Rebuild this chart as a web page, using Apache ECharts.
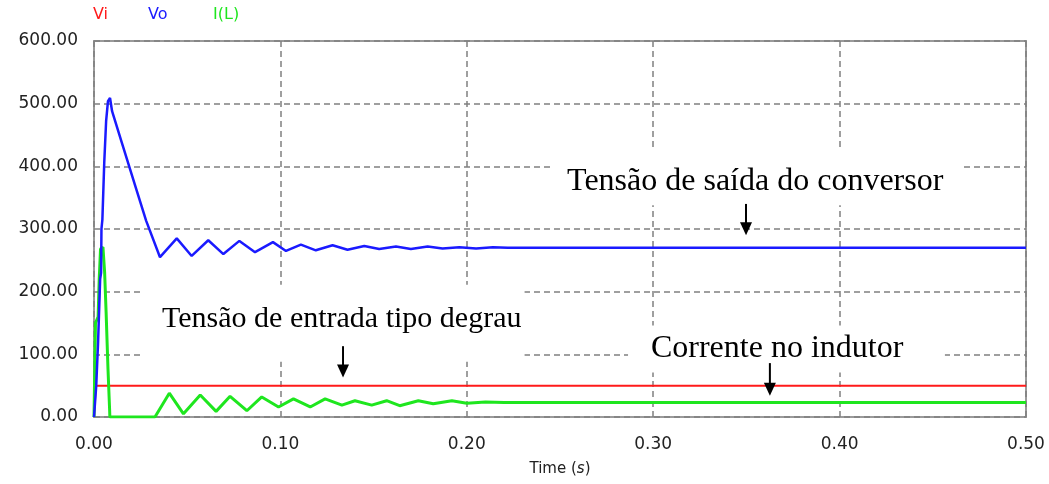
<!DOCTYPE html>
<html>
<head>
<meta charset="utf-8">
<script src="https://cdn.jsdelivr.net/npm/echarts@6/dist/echarts.min.js"></script>
<style>
html,body{margin:0;padding:0;background:#fff;}
#c{width:1049px;height:484px;}
</style>
</head>
<body>
<div id="c"></div>
<script>
// ---- data ----
var xTicks = [0, 0.1, 0.2, 0.3, 0.4, 0.5];
var yTicks = [0, 100, 200, 300, 400, 500, 600];
var seriesNames = ['Vi', 'Vo', 'I(L)'];

var viTime = [0, 0.0010, 0.0010, 0.5];
var viVal  = [0, 0, 50, 50];

var voTime = [0, 0.0006, 0.0012, 0.0020, 0.0022, 0.0030, 0.0033, 0.0038, 0.0040, 0.0045, 0.0055, 0.0065, 0.0075, 0.0086, 0.0097, 0.015, 0.022, 0.028, 0.0354, 0.0444, 0.0524, 0.0613, 0.0694, 0.078, 0.0864, 0.096, 0.103, 0.111, 0.119, 0.128, 0.136, 0.145, 0.153, 0.162, 0.170, 0.179, 0.187, 0.196, 0.205, 0.214, 0.222, 0.5];
var voVal  = [0, 0, 50, 50, 120, 120, 220, 230, 300, 315, 406, 472, 504, 509, 488, 437, 370, 313, 255, 285, 257, 282, 260, 281, 263, 279, 265, 275, 266, 274, 267, 273, 268, 272, 268, 272, 269, 271, 269, 271, 270, 270];

var ilTime = [0, 0.0006, 0.0008, 0.0022, 0.0028, 0.0035, 0.0048, 0.0057, 0.0065, 0.0075, 0.0084, 0.0085, 0.0327, 0.0404, 0.048, 0.057, 0.0655, 0.073, 0.082, 0.090, 0.099, 0.107, 0.116, 0.124, 0.133, 0.140, 0.149, 0.157, 0.164, 0.174, 0.182, 0.192, 0.200, 0.210, 0.220, 0.5];
var ilVal  = [0, 0, 150, 160, 220, 268, 271, 231, 167, 77, 10, 0, 0, 38, 5, 35, 9, 33, 10, 32, 16, 29, 16, 29, 19, 26, 19, 26, 18, 26, 21, 26, 22, 24, 23, 23];

// annotations: text, anchor (time, value) of text left/middle, arrow (time, valueTop, valueTip), box corners
var annoText  = ['Tensão de saída do conversor', 'Tensão de entrada tipo degrau', 'Corrente no indutor'];
var annoSize  = [32, 30, 32];
var annoPos   = [[0.2538, 375], [0.0365, 156], [0.2988, 109]];
var arrowPos  = [[0.3498, 340, 290], [0.1336, 113, 63], [0.3626, 86, 34]];
var boxPos    = [[0.245, 425, 0.465, 338], [0.025, 211, 0.231, 88], [0.2865, 146, 0.4565, 71]];

var colors = ['#ff1a1a', '#1a1aff', '#1ee61e'];

function pairs(t, v){ return t.map(function(x,i){ return [x, v[i]]; }); }

var chart = echarts.init(document.getElementById('c'));
var option = {
  animation: false,
  backgroundColor: '#ffffff',
  grid: { left: 94, right: 23, top: 41, bottom: 67, show: true, borderColor: '#9a9a9a', borderWidth: 2, backgroundColor: 'transparent' },
  xAxis: {
    type: 'value', min: xTicks[0], max: xTicks[xTicks.length-1], interval: 0.1,
    axisLine: { show: false }, axisTick: { show: false },
    axisLabel: { margin: 19, color: '#222', fontFamily: 'DejaVu Sans', fontSize: 17, formatter: function(v){ return v.toFixed(2); } },
    splitLine: { show: true, lineStyle: { color: '#808080', type: [6, 4], width: 1.5 } },
    name: '{a|Time (}{i|s}{a|)}', nameLocation: 'middle', nameGap: 45,
    nameTextStyle: { rich: { a: { fontFamily: 'DejaVu Sans', fontSize: 15, color: '#222' }, i: { fontFamily: 'DejaVu Sans', fontSize: 15, fontStyle: 'italic', color: '#222' } } }
  },
  yAxis: {
    type: 'value', min: yTicks[0], max: yTicks[yTicks.length-1], interval: 100,
    axisLine: { show: false }, axisTick: { show: false },
    axisLabel: { margin: 16, color: '#222', fontFamily: 'DejaVu Sans', fontSize: 17, formatter: function(v){ return v.toFixed(2); } },
    splitLine: { show: true, lineStyle: { color: '#808080', type: [6, 4], width: 1.5 } }
  },
  series: [
    { name: seriesNames[0], type: 'line', data: pairs(viTime, viVal), showSymbol: false, lineStyle: { color: colors[0], width: 2 }, z: 3 },
    { name: seriesNames[2], type: 'line', data: pairs(ilTime, ilVal), showSymbol: false, lineStyle: { color: colors[2], width: 3 }, z: 4 },
    { name: seriesNames[1], type: 'line', data: pairs(voTime, voVal), showSymbol: false, lineStyle: { color: colors[1], width: 2.5 }, z: 5 }
  ]
};
chart.setOption(option);

function px(t, v){ return chart.convertToPixel({gridIndex: 0}, [t, v]); }

var g = [];
// legend texts
var legX = [93, 148, 213];
seriesNames.forEach(function(n, i){
  g.push({ type: 'text', left: legX[i], top: 7, z: 100, style: { text: n, fill: colors[i], font: '16px "DejaVu Sans"' } });
});
// annotation boxes, texts, arrows
for (var i = 0; i < annoText.length; i++) {
  var b0 = px(boxPos[i][0], boxPos[i][1]), b1 = px(boxPos[i][2], boxPos[i][3]);
  g.push({ type: 'rect', z: 90, shape: { x: b0[0], y: b0[1], width: b1[0]-b0[0], height: b1[1]-b0[1] }, style: { fill: '#ffffff' } });
  var p = px(annoPos[i][0], annoPos[i][1]);
  g.push({ type: 'text', z: 100, x: p[0], y: p[1], style: { text: annoText[i], fill: '#000', font: annoSize[i] + 'px "Liberation Serif"', textAlign: 'left', textVerticalAlign: 'middle' } });
  var a0 = px(arrowPos[i][0], arrowPos[i][1]), a1 = px(arrowPos[i][0], arrowPos[i][2]);
  g.push({ type: 'line', z: 100, shape: { x1: a0[0], y1: a0[1], x2: a1[0], y2: a1[1]-6 }, style: { stroke: '#000', lineWidth: 2 } });
  g.push({ type: 'polygon', z: 100, shape: { points: [[a1[0]-6, a1[1]-13], [a1[0]+6, a1[1]-13], [a1[0], a1[1]]] }, style: { fill: '#000' } });
}
chart.setOption({ graphic: g });
</script>
</body>
</html>
